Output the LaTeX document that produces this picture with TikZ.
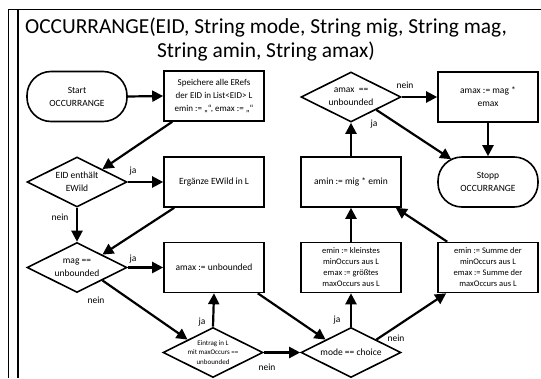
\documentclass[tikz,border=0pt]{standalone}
\usepackage{fontspec}
\setmainfont{Carlito}
\usetikzlibrary{arrows.meta,shapes.geometric,calc}

\begin{document}
\begin{tikzpicture}[x=1pt,y=-1pt,
  every node/.style={align=center, text=black},
  txt/.style={font=\fontsize{9.5}{13}\selectfont},
  small/.style={font=\fontsize{8.5}{11}\selectfont},
  tiny/.style={font=\fontsize{7}{9.7}\selectfont},
  box/.style={draw, line width=1.6pt, minimum width=100pt, minimum height=50pt, inner sep=1pt, txt},
  term/.style={box, rounded corners=24pt},
  dia/.style={draw, line width=1.6pt, diamond, minimum width=100pt, minimum height=50pt, inner sep=0pt},
  flow/.style={line width=2.2pt, -{Triangle[length=11pt,width=11pt]}},
  lbl/.style={font=\fontsize{9.5}{11}\selectfont},
]
\useasboundingbox (0,0) rectangle (541,378);

% frame
\draw[line width=1.4pt] (8.5,378) -- (8.5,9.5) -- (541,9.5);
\draw[line width=1.4pt] (18,9.5) -- (18,378);

% title
\node[font=\fontsize{21.4}{24}\selectfont] (title) at (266,40)
  {OCCURRANGE(EID, String mode, String mig, String mag,\\String amin, String amax)};

% nodes
\node[term] (start) at (77,96.5) {Start\\OCCURRANGE};
\node[box, font=\fontsize{9}{13}\selectfont] (store) at (214,96)
  {Speichere alle ERefs\\der EID in List<EID> L\\emin := „“, emax := „“};
\node[dia, label={[txt]center:{EID enthält\\EWild}}] (eid) at (77,182) {};
\node[box] (wild) at (214,182) {Ergänze EWild in L};
\node[dia, label={[txt]center:{mag ==\\unbounded}}] (mag) at (77,267.5) {};
\node[box] (amaxu) at (214,267.5) {amax := unbounded};
\node[dia, label={[tiny]center:{Eintrag in L\\mit maxOccurs ==\\unbounded}}] (entry) at (213,352.5) {};
\node[dia, label={[txt]center:{mode == choice}}] (mode) at (351,352.5) {};
\node[box, small] (emin1) at (351,267.5)
  {emin := kleinstes\\minOccurs aus L\\emax := größtes\\maxOccurs aus L};
\node[box, small] (emin2) at (488,267.5)
  {emin := Summe der\\minOccurs aus L\\emax := Summe der\\maxOccurs aus L};
\node[box] (amin) at (351,182) {amin := mig * emin};
\node[dia, label={[txt]center:{amax \ ==\\unbounded}}] (amaxq) at (351,97) {};
\node[box] (amaxm) at (488,97) {amax := mag *\\emax};
\node[term] (stop) at (488,182) {Stopp\\OCCURRANGE};

% connectors
\draw[flow] (start.east) -- (store.west);
\draw[flow] ($(store.south west)+(9,0)$) -- (eid.north east);
\draw[flow] (eid.east) -- (wild.west);
\draw[flow] (eid.south) -- (mag.north);
\draw[flow] ($(wild.south west)+(11,0)$) -- (mag.north east);
\draw[flow] (mag.east) -- (amaxu.west);
\draw[flow] (mag.south east) -- (entry.north west);
\draw[flow] (entry.north) -- (amaxu.south);
\draw[flow] (entry.east) -- (mode.west);
\draw[flow] ($(amaxu.south east)+(-7,0)$) -- (mode.north west);
\draw[flow] (mode.north) -- (emin1.south);
\draw[flow] (mode.north east) -- ($(emin2.south west)+(9,0)$);
\draw[flow] (emin1.north) -- (amin.south);
\draw[flow] ($(emin2.north west)+(10,0)$) -- ($(amin.south east)+(-6,0)$);
\draw[flow] (amin.north) -- (amaxq.south);
\draw[flow] (amaxq.east) -- (amaxm.west);
\draw[flow] (amaxq.south east) -- ($(stop.north west)+(14,3)$);
\draw[flow] (amaxm.south) -- (stop.north);

% branch labels
\node[lbl] (l1) at (133,171) {ja};
\node[lbl] (l2) at (60,217) {nein};
\node[lbl] (l3) at (133,259) {ja};
\node[lbl] (l4) at (96,300) {nein};
\node[lbl] (l5) at (202,322) {ja};
\node[lbl] (l6) at (267,367) {nein};
\node[lbl] (l7) at (337,320) {ja};
\node[lbl] (l8) at (396,338) {nein};
\node[lbl] (l9) at (374,124) {ja};
\node[lbl] (l10) at (405,85) {nein};
\end{tikzpicture}
\end{document}
